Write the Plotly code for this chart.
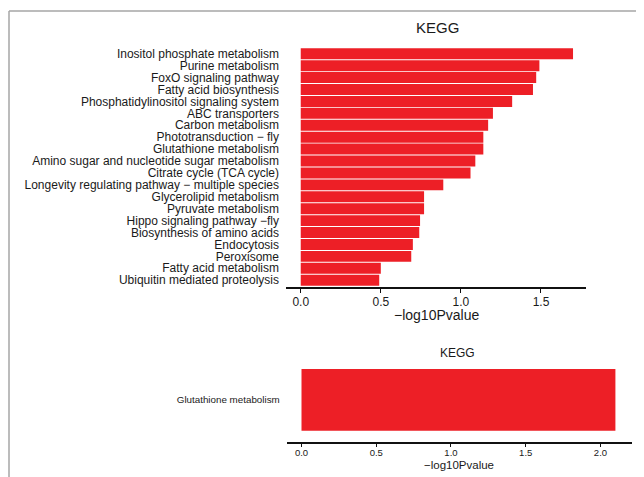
import plotly.graph_objects as go

W, H = 644, 477
OFF = 8  # default page margin of the html body

# ---- data (top to bottom as shown) ----
top_terms = [
    "Inositol phosphate metabolism",
    "Purine metabolism",
    "FoxO signaling pathway",
    "Fatty acid biosynthesis",
    "Phosphatidylinositol signaling system",
    "ABC transporters",
    "Carbon metabolism",
    "Phototransduction − fly",
    "Glutathione metabolism",
    "Amino sugar and nucleotide sugar metabolism",
    "Citrate cycle (TCA cycle)",
    "Longevity regulating pathway − multiple species",
    "Glycerolipid metabolism",
    "Pyruvate metabolism",
    "Hippo signaling pathway −fly",
    "Biosynthesis of amino acids",
    "Endocytosis",
    "Peroxisome",
    "Fatty acid metabolism",
    "Ubiquitin mediated proteolysis",
]
top_values = [1.70, 1.49, 1.47, 1.45, 1.32, 1.20, 1.17, 1.14, 1.14, 1.09,
              1.06, 0.89, 0.77, 0.77, 0.745, 0.74, 0.70, 0.69, 0.50, 0.49]

bottom_terms = ["Glutathione metabolism"]
bottom_values = [2.10]

top_ticks = [0.0, 0.5, 1.0, 1.5]
bottom_ticks = [0.0, 0.5, 1.0, 1.5, 2.0]

title_text = "KEGG"
xlabel = "−log10Pvalue"

RED = "#ED1F26"
FONT = "Liberation Sans, Arial, sans-serif"
TXT = "#1a1a1a"

FW, FH = W - OFF, H - OFF


def px_x(p):
    return (p - OFF) / FW


def px_y(p):
    return 1 - (p - OFF) / FH


fig = go.Figure()

fig.add_trace(go.Bar(
    x=top_values[::-1], y=top_terms[::-1], orientation="h",
    marker=dict(color=RED, line=dict(width=0)), width=0.92,
    xaxis="x", yaxis="y", showlegend=False, hoverinfo="x+y",
))
fig.add_trace(go.Bar(
    x=bottom_values, y=bottom_terms, orientation="h",
    marker=dict(color=RED, line=dict(width=0)), width=0.9,
    xaxis="x2", yaxis="y2", showlegend=False, hoverinfo="x+y",
))

fig.update_layout(
    width=FW, height=FH,
    margin=dict(l=0, r=0, t=0, b=0, autoexpand=False),
    paper_bgcolor="white", plot_bgcolor="white",
    font=dict(family=FONT, color=TXT),
    xaxis=dict(
        domain=[px_x(286), px_x(586)], range=[-0.092, 1.781],
        anchor="y", showgrid=False, zeroline=False, automargin=False,
        showline=True, linecolor="#111", linewidth=1.5,
        ticks="outside", ticklen=4, tickwidth=1, tickcolor="#111",
        tickmode="array", tickvals=top_ticks, tickformat=".1f",
        tickfont=dict(size=12, family=FONT, color=TXT),
        ticklabelstandoff=-1,
    ),
    yaxis=dict(
        domain=[px_y(287), px_y(47.8)], range=[-0.57, 19.5],
        anchor="x", showgrid=False, zeroline=False, showline=False,
        automargin=False, ticks="", type="category",
        categoryorder="array", categoryarray=top_terms[::-1],
        tickmode="array", tickvals=top_terms[::-1], ticktext=top_terms[::-1],
        tickfont=dict(size=12, family=FONT, color=TXT),
        ticklabelstandoff=6,
    ),
    xaxis2=dict(
        domain=[px_x(286.7), px_x(631.7)], range=[-0.099, 2.209],
        anchor="y2", showgrid=False, zeroline=False, automargin=False,
        showline=True, linecolor="#111", linewidth=1.5,
        ticks="outside", ticklen=4, tickwidth=1, tickcolor="#111",
        tickmode="array", tickvals=bottom_ticks, tickformat=".1f",
        tickfont=dict(size=9.5, family=FONT, color=TXT),
        ticklabelstandoff=-3,
    ),
    yaxis2=dict(
        domain=[px_y(441.7), px_y(365.6)], range=[-0.61, 0.5],
        anchor="x2", showgrid=False, zeroline=False, showline=False,
        automargin=False, ticks="", type="category",
        tickmode="array", tickvals=bottom_terms, ticktext=bottom_terms,
        tickfont=dict(size=9.8, family=FONT, color=TXT),
        ticklabelstandoff=6,
    ),
    annotations=[
        dict(text=title_text, x=px_x(437), y=px_y(28), xref="paper", yref="paper",
             showarrow=False, xanchor="center", yanchor="middle",
             font=dict(size=15, family=FONT, color=TXT)),
        dict(text=xlabel, x=px_x(436), y=px_y(314.5), xref="paper", yref="paper",
             showarrow=False, xanchor="center", yanchor="middle",
             font=dict(size=14, family=FONT, color=TXT)),
        dict(text=title_text, x=px_x(458), y=px_y(353), xref="paper", yref="paper",
             showarrow=False, xanchor="center", yanchor="middle",
             font=dict(size=12, family=FONT, color=TXT)),
        dict(text=xlabel, x=px_x(459), y=px_y(464.5), xref="paper", yref="paper",
             showarrow=False, xanchor="center", yanchor="middle",
             font=dict(size=11.5, family=FONT, color=TXT)),
    ],
    shapes=[
        dict(type="line", xref="paper", yref="paper",
             x0=px_x(9), x1=px_x(9), y0=px_y(11), y1=0,
             line=dict(color="#a6a6a6", width=1.5)),
        dict(type="line", xref="paper", yref="paper",
             x0=px_x(9), x1=1, y0=px_y(11), y1=px_y(11),
             line=dict(color="#a6a6a6", width=1.5)),
    ],
)

fig.write_html("out.html")
